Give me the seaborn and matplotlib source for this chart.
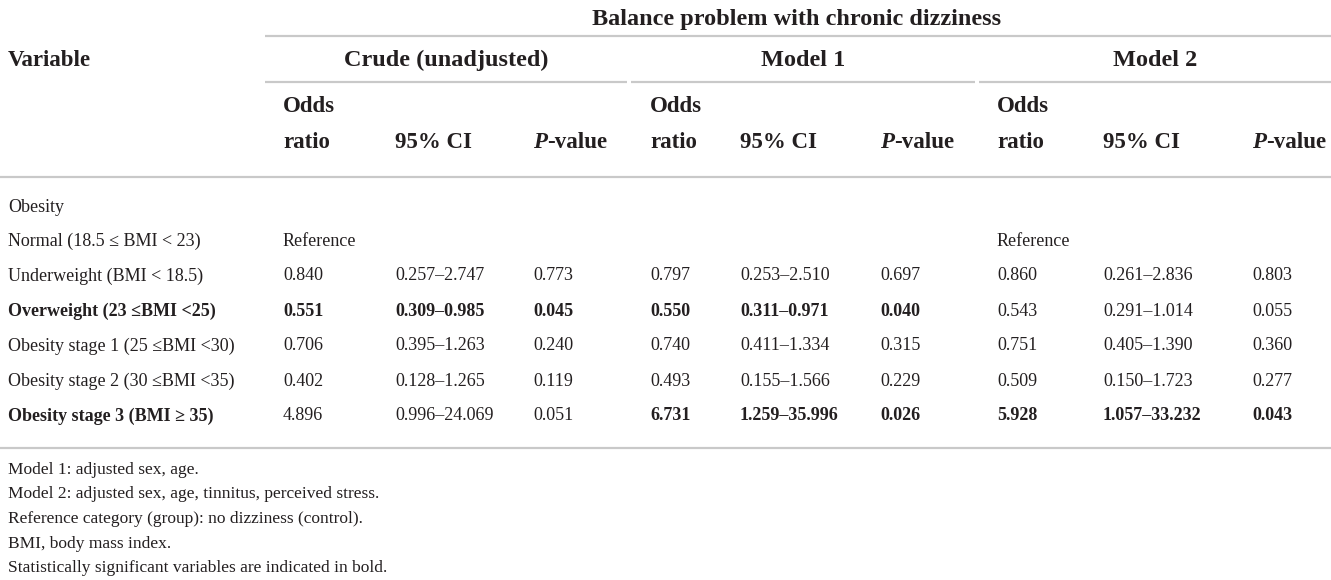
import matplotlib
matplotlib.use("Agg")
import matplotlib.pyplot as plt
import seaborn as sns

sns.set_style("white")
plt.rcParams['font.family'] = ['Liberation Serif', 'DejaVu Serif']

# Table content
title = "Balance problem with chronic dizziness"
groups = ["Crude (unadjusted)", "Model 1", "Model 2"]
row_labels = [
    "Normal (18.5 \u2264 BMI < 23)",
    "Underweight (BMI < 18.5)",
    "Overweight (23 \u2264BMI <25)",
    "Obesity stage 1 (25 \u2264BMI <30)",
    "Obesity stage 2 (30 \u2264BMI <35)",
    "Obesity stage 3 (BMI \u2265 35)",
]
label_bold = [False, False, True, False, False, True]

crude_or = ["Reference", "0.840", "0.551", "0.706", "0.402", "4.896"]
crude_ci = ["", "0.257\u20132.747", "0.309\u20130.985", "0.395\u20131.263", "0.128\u20131.265", "0.996\u201324.069"]
crude_p = ["", "0.773", "0.045", "0.240", "0.119", "0.051"]
crude_bold = [False, False, True, False, False, False]

m1_or = ["", "0.797", "0.550", "0.740", "0.493", "6.731"]
m1_ci = ["", "0.253\u20132.510", "0.311\u20130.971", "0.411\u20131.334", "0.155\u20131.566", "1.259\u201335.996"]
m1_p = ["", "0.697", "0.040", "0.315", "0.229", "0.026"]
m1_bold = [False, False, True, False, False, True]

m2_or = ["Reference", "0.860", "0.543", "0.751", "0.509", "5.928"]
m2_ci = ["", "0.261\u20132.836", "0.291\u20131.014", "0.405\u20131.390", "0.150\u20131.723", "1.057\u201333.232"]
m2_p = ["", "0.803", "0.055", "0.360", "0.277", "0.043"]
m2_bold = [False, False, False, False, False, True]

footnotes = [
    "Model 1: adjusted sex, age.",
    "Model 2: adjusted sex, age, tinnitus, perceived stress.",
    "Reference category (group): no dizziness (control).",
    "BMI, body mass index.",
    "Statistically significant variables are indicated in bold.",
]

# layout (pixel coords)
W, H = 1331, 580
col_x = [283, 395, 533, 650, 740, 880, 997, 1103, 1252]
group_span = [(265, 627), (631, 975), (979, 1331)]
row_y = [241, 276, 311, 346, 381, 416]
foot_y = [470, 494, 519, 544, 568]
txt = "#231f20"
rule = "#c9c9c9"
tsize, hsize, bsize, fsize = 17.5, 16.5, 13, 12.5

fig = plt.figure(figsize=(W / 100, H / 100), dpi=100)
ax = fig.add_axes([0, 0, 1, 1])
ax.set_xlim(0, W)
ax.set_ylim(H, 0)
ax.axis('off')

# header
ax.text(797, 19, title, ha='center', va='center', fontsize=tsize, fontweight='bold', color=txt)
ax.hlines(36, 265, W, color=rule, lw=1.6)
ax.text(8, 60, "Variable", ha='left', va='center', fontsize=hsize, fontweight='bold', color=txt)
for g, (x0, x1) in zip(groups, group_span):
    ax.text((x0 + x1) / 2, 60, g, ha='center', va='center', fontsize=tsize, fontweight='bold', color=txt)
    ax.hlines(82, x0, x1, color=rule, lw=1.6)

fig.canvas.draw()
renderer = fig.canvas.get_renderer()
inv = ax.transData.inverted()
for k in range(3):
    xo, xc, xp = col_x[3 * k:3 * k + 3]
    ax.text(xo, 107, "Odds", ha='left', va='center', fontsize=hsize, fontweight='bold', color=txt)
    ax.text(xo, 143, "ratio", ha='left', va='center', fontsize=hsize, fontweight='bold', color=txt)
    ax.text(xc, 143, "95% CI", ha='left', va='center', fontsize=hsize, fontweight='bold', color=txt)
    tp = ax.text(xp, 143, "P", ha='left', va='center', fontsize=hsize, fontweight='bold',
                 fontstyle='italic', color=txt)
    bb = tp.get_window_extent(renderer)
    xend = inv.transform((bb.x1, bb.y0))[0]
    ax.text(xend, 143, "-value", ha='left', va='center', fontsize=hsize, fontweight='bold', color=txt)

ax.hlines(177, 0, W, color=rule, lw=1.6)

# body
ax.text(8, 207, "Obesity", ha='left', va='center', fontsize=bsize, color=txt)
cols = [(crude_or, crude_ci, crude_p, crude_bold),
        (m1_or, m1_ci, m1_p, m1_bold),
        (m2_or, m2_ci, m2_p, m2_bold)]
for i, y in enumerate(row_y):
    ax.text(8, y, row_labels[i], ha='left', va='center', fontsize=bsize,
            fontweight='bold' if label_bold[i] else 'normal', color=txt)
    for k, (o, c, p, b) in enumerate(cols):
        w = 'bold' if b[i] else 'normal'
        for j, val in enumerate([o[i], c[i], p[i]]):
            if val:
                ax.text(col_x[3 * k + j], y, val, ha='left', va='center', fontsize=bsize,
                        fontweight=w, color=txt)

ax.hlines(448, 0, W, color=rule, lw=1.6)

for y, s in zip(foot_y, footnotes):
    ax.text(8, y, s, ha='left', va='center', fontsize=fsize, color=txt)

fig.savefig("out.png", dpi=100)
